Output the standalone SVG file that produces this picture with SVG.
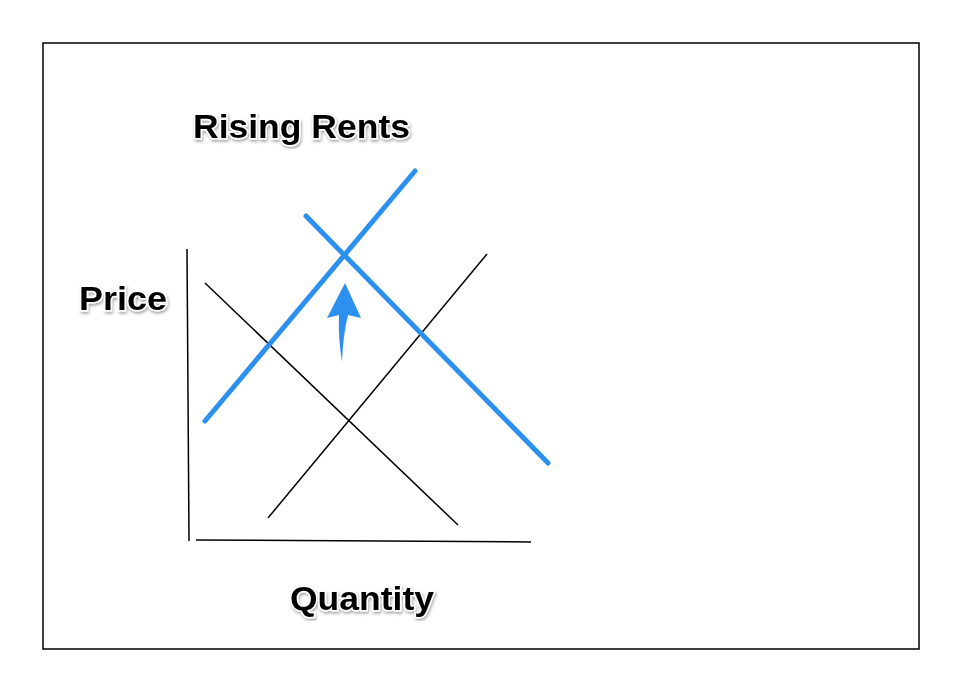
<svg xmlns="http://www.w3.org/2000/svg" width="962" height="692" viewBox="0 0 962 692">
<style>
.t{font-family:"Liberation Sans",Arial,sans-serif;font-weight:bold;font-size:34px;fill:#000;stroke:#fff;stroke-width:3px;paint-order:stroke}
.k{stroke:#000;stroke-width:1.5;fill:none}
.b{stroke:#2b90f0;stroke-width:5;stroke-linecap:round;fill:none}
</style>
<defs><filter id="s"><feDropShadow dx="1" dy="2" stdDeviation="1.5" flood-color="#000" flood-opacity="0.35"/></filter></defs>
<rect x="0" y="0" width="962" height="692" fill="#fff"/>
<rect x="43" y="43" width="876" height="606" fill="none" stroke="#000" stroke-width="1.5"/>
<g id="title"><text class="t" x="193" y="138" textLength="217" lengthAdjust="spacingAndGlyphs" filter="url(#s)">Rising Rents</text></g>
<g id="price"><text class="t" x="79" y="310" textLength="88" lengthAdjust="spacingAndGlyphs" filter="url(#s)">Price</text></g>
<g id="quantity"><text class="t" x="290" y="610" textLength="144" lengthAdjust="spacingAndGlyphs" filter="url(#s)">Quantity</text></g>
<g id="connectors">
<line class="k" x1="187" y1="249" x2="189" y2="541"/>
<line class="k" x1="196" y1="540" x2="531" y2="542"/>
<line class="k" x1="205" y1="283" x2="458" y2="525"/>
<line class="k" x1="268" y1="518" x2="487" y2="254"/>
<line class="b" x1="205" y1="421" x2="415" y2="171"/>
<line class="b" x1="306" y1="216" x2="548" y2="463"/>
<path id="arrow" d="M345,283 L361,318 L348,315 Q343,335 342,362 Q338,338 339,315 L327,318 Z" fill="#2b90f0"/>
</g>
</svg>
